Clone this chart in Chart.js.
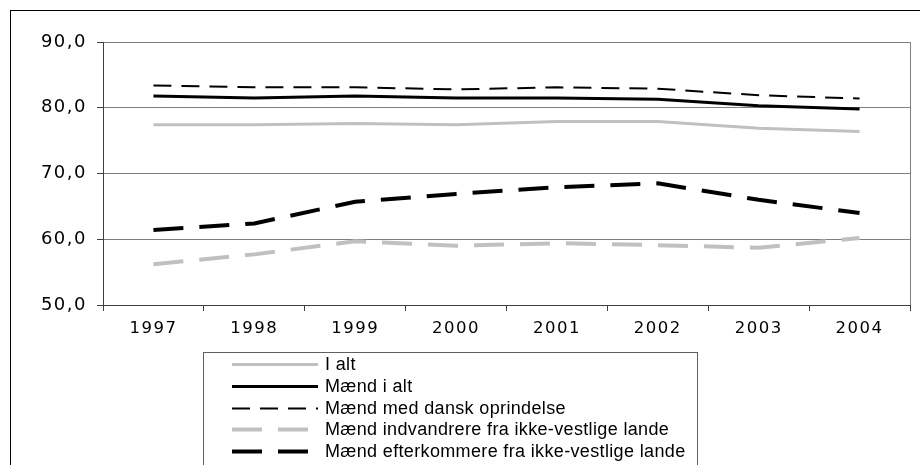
<!DOCTYPE html>
<html>
<head>
<meta charset="utf-8">
<script src="https://cdn.jsdelivr.net/npm/chart.js@4"></script>
<style>
  html, body { margin: 0; padding: 0; background: #fff; }
</style>
</head>
<body>
<canvas id="chart" width="920" height="465"></canvas>
<script>
const years = ['1997', '1998', '1999', '2000', '2001', '2002', '2003', '2004'];
const iAlt = [77.4, 77.4, 77.6, 77.4, 77.9, 77.9, 76.9, 76.4];
const maendIAlt = [81.8, 81.5, 81.8, 81.5, 81.5, 81.3, 80.3, 79.8];
const maendDansk = [83.4, 83.1, 83.1, 82.8, 83.1, 82.9, 81.9, 81.4];
const maendIndvandrere = [56.2, 57.7, 59.7, 59.0, 59.4, 59.1, 58.7, 60.2];
const maendEfterkommere = [61.4, 62.4, 65.7, 66.9, 67.9, 68.5, 66.0, 64.0];

const grey = '#c0c0c0';
const font = '"Liberation Sans", Arial, sans-serif';
const tickFont = '"DejaVu Sans", sans-serif';

// legend box, outer frame and right edge of the plot area
const decor = {
  id: 'decor',
  beforeDraw(chart) {
    chart.ctx.letterSpacing = '1.5px';
  },
  beforeDatasetsDraw(chart) {
    const {ctx, chartArea} = chart;
    ctx.letterSpacing = '0px';
    ctx.save();
    ctx.strokeStyle = '#808080';
    ctx.lineWidth = 1;
    ctx.beginPath();
    ctx.moveTo(Math.round(chartArea.right) + 0.5, chartArea.top);
    ctx.lineTo(Math.round(chartArea.right) + 0.5, chartArea.bottom);
    ctx.stroke();
    ctx.restore();
  },
  afterDraw(chart) {
    const ctx = chart.ctx;
    ctx.save();
    ctx.strokeStyle = '#000';
    ctx.lineWidth = 1;
    ctx.strokeRect(10.5, 10.5, 930, 480);
    ctx.strokeStyle = '#606060';
    ctx.strokeRect(203.5, 352.5, 494, 130);
    ctx.font = '18px ' + font;
    ctx.letterSpacing = '0.35px';
    ctx.textBaseline = 'middle';
    ctx.fillStyle = '#000';
    chart.data.datasets.forEach((ds, i) => {
      const y = Math.round(364 + i * 21.8) + 0.5;
      ctx.beginPath();
      ctx.setLineDash(ds.borderDash || []);
      ctx.strokeStyle = ds.borderColor;
      ctx.lineWidth = ds.borderWidth;
      ctx.moveTo(232, y);
      ctx.lineTo(318, y);
      ctx.stroke();
      ctx.setLineDash([]);
      ctx.fillText(ds.label, 325, y + 1);
    });
    ctx.restore();
  }
};

new Chart(document.getElementById('chart'), {
  type: 'line',
  data: {
    labels: years,
    datasets: [{
      label: 'I alt',
      data: iAlt,
      borderColor: grey,
      borderWidth: 3
    }, {
      label: 'Mænd i alt',
      data: maendIAlt,
      borderColor: '#000',
      borderWidth: 3
    }, {
      label: 'Mænd med dansk oprindelse',
      data: maendDansk,
      borderColor: '#000',
      borderWidth: 2,
      borderDash: [18, 10]
    }, {
      label: 'Mænd indvandrere fra ikke-vestlige lande',
      data: maendIndvandrere,
      borderColor: grey,
      borderWidth: 4,
      borderDash: [30, 16]
    }, {
      label: 'Mænd efterkommere fra ikke-vestlige lande',
      data: maendEfterkommere,
      borderColor: '#000',
      borderWidth: 4,
      borderDash: [30, 16]
    }]
  },
  options: {
    responsive: false,
    animation: false,
    layout: {
      padding: {left: 10, right: 10, top: 42, bottom: 130}
    },
    elements: {
      point: {radius: 0},
      line: {tension: 0, borderCapStyle: 'butt'}
    },
    plugins: {
      legend: false,
      tooltip: {enabled: false}
    },
    scales: {
      x: {
        offset: true,
        afterFit: s => { s.height = 30; },
        grid: {
          offset: true,
          drawOnChartArea: false,
          tickLength: 6,
          tickColor: '#404040'
        },
        border: {color: '#404040'},
        ticks: {
          color: '#000',
          padding: 8,
          maxRotation: 0,
          font: {family: tickFont, size: 16.5}
        }
      },
      y: {
        min: 50,
        max: 90,
        afterFit: s => { s.width = 93; },
        grid: {
          color: '#808080',
          tickLength: 6,
          tickColor: '#404040'
        },
        border: {color: '#404040'},
        ticks: {
          stepSize: 10,
          color: '#000',
          padding: 10,
          font: {family: tickFont, size: 18},
          callback: v => v.toFixed(1).replace('.', ',')
        }
      }
    }
  },
  plugins: [decor]
});
</script>
</body>
</html>
